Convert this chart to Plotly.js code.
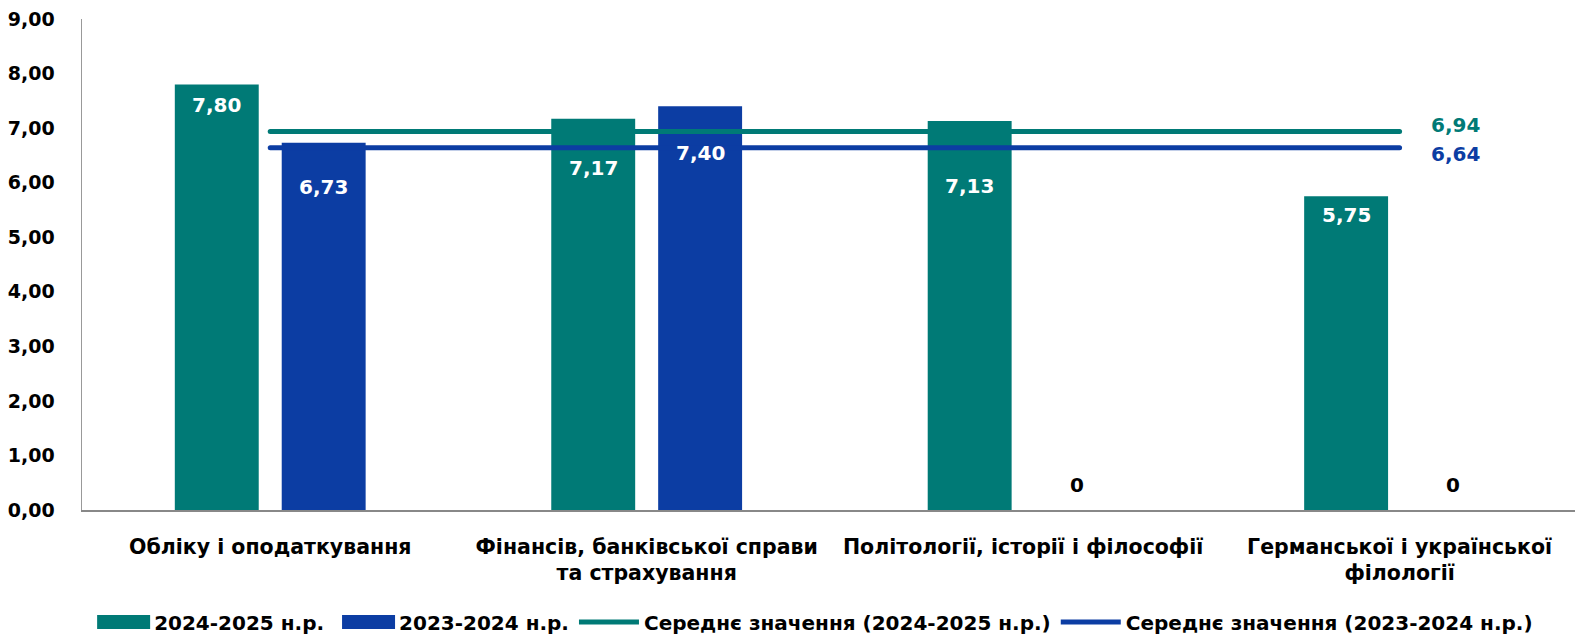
<!DOCTYPE html>
<html><head><meta charset="utf-8">
<script src="https://cdn.plot.ly/plotly-3.0.1.min.js"></script>
<style>html,body{margin:0;padding:0;background:#fff}#chart{width:1575px;height:638px}</style>
</head><body><div id="chart"></div>
<script>
const categories = ["Обліку і оподаткування", "Фінансів, банківської справи<br>та страхування", "Політології, історії і філософії", "Германської і української<br>філології"];
const series2425 = [7.80, 7.17, 7.13, 5.75];
const series2324 = [6.73, 7.40, 0, 0];
const avg2425 = 6.94;
const avg2324 = 6.64;
const seriesNames = ["2024-2025 н.р.", "2023-2024 н.р.", "Середнє значення (2024-2025 н.р.)", "Середнє значення (2023-2024 н.р.)"];

const TEAL = "#007A76", BLUE = "#0C3DA3";
const FONT = "DejaVu Sans";
const fmt = v => v === 0 ? "0" : v.toFixed(2).replace(".", ",");
const idx = categories.map((_, i) => i);

// label placement (px below bar top, as in the original manual label layout)
const labelDrop2425 = [21, 49, 65, 19];
const labelDrop2324 = [44, 47, -25, -25];
const BAR_OFFSET = 53.5;

const barTrace = (vals, name, color) => ({
  type: "bar", x: idx, y: vals, name: name,
  marker: {color: color}, hoverinfo: "skip"
});

const lineTrace = (val, name, color) => ({
  type: "scatter", mode: "lines", name: name,
  x: [idx[0], idx[idx.length - 1]],
  y: [val, val],
  line: {color: color, width: 5},
  hoverinfo: "skip"
});

const data = [
  barTrace(series2425, seriesNames[0], TEAL),
  barTrace(series2324, seriesNames[1], BLUE),
  lineTrace(avg2425, seriesNames[2], TEAL),
  lineTrace(avg2324, seriesNames[3], BLUE)
];

const barLabels = (vals, drops, shift) => vals.map((v, i) => ({
  x: idx[i], y: v, xref: "x", yref: "y", text: fmt(v), showarrow: false,
  xshift: shift, yshift: -drops[i],
  font: {family: FONT, size: 20, color: v === 0 ? "#000" : "#fff", weight: 700}
}));

const layout = {
  width: 1575, height: 638,
  margin: {l: 82, r: 0, t: 19, b: 128, autoexpand: false},
  paper_bgcolor: "#fff", plot_bgcolor: "#fff",
  separators: ", ",
  font: {family: FONT, size: 19, color: "#000", weight: 700},
  barmode: "group", bargap: 0.432, bargroupgap: 0.215,
  showlegend: true,
  legend: {orientation: "h", xref: "container", yref: "container",
           x: 0.515, xanchor: "center", y: 0.025, yanchor: "middle",
           itemwidth: 60,
           font: {family: FONT, size: 20, color: "#000", weight: 700}, traceorder: "normal"},
  xaxis: {range: [-0.5, 3.466], tickvals: idx, ticktext: categories, automargin: false,
          showline: true, linecolor: "#888", linewidth: 2,
          ticks: "", showgrid: false, zeroline: false, ticklabelstandoff: 17,
          tickfont: {family: FONT, size: 20.5, color: "#000", weight: 700}},
  yaxis: {range: [0, 9], dtick: 1, tick0: 0, tickformat: ",.2f", showline: true, automargin: false,
          linecolor: "#999", linewidth: 1.5, ticks: "", showgrid: false, zeroline: false,
          tickfont: {family: FONT, size: 19, color: "#000", weight: 700}, ticklabelstandoff: 22},
  annotations: [
    ...barLabels(series2425, labelDrop2425, -BAR_OFFSET),
    ...barLabels(series2324, labelDrop2324, BAR_OFFSET),
    {x: idx[3], y: avg2425, xref: "x", yref: "y", text: fmt(avg2425), showarrow: false,
     xshift: 56, yshift: 6, font: {family: FONT, size: 20, color: TEAL, weight: 700}},
    {x: idx[3], y: avg2324, xref: "x", yref: "y", text: fmt(avg2324), showarrow: false,
     xshift: 56, yshift: -6, font: {family: FONT, size: 20, color: BLUE, weight: 700}}
  ]
};

function styleLegendSymbols(gd) {
  const traces = gd.querySelectorAll(".legend .traces");
  traces.forEach((g, i) => {
    const txt = g.querySelector("text.legendtext");
    if (!txt) return;
    const tx = parseFloat(txt.getAttribute("x")) || 40;
    if (i < 2) {
      g.querySelectorAll(".legendpoints path").forEach(p => {
        p.removeAttribute("transform");
        p.setAttribute("d", `M${tx - 4},7H${tx - 57}V-7H${tx - 4}Z`);
      });
    } else {
      g.querySelectorAll(".legendpoints path").forEach(p => {
        p.setAttribute("d", `M${tx - 60},0H${tx - 2}`);
        p.style.strokeLinecap = "round";
      });
    }
  });
}

Plotly.newPlot("chart", data, layout, {displayModeBar: false, staticPlot: true}).then(gd => {
  styleLegendSymbols(gd);
  gd.querySelectorAll(".scatterlayer .js-line").forEach(p => p.style.strokeLinecap = "round");
});
</script></body></html>
